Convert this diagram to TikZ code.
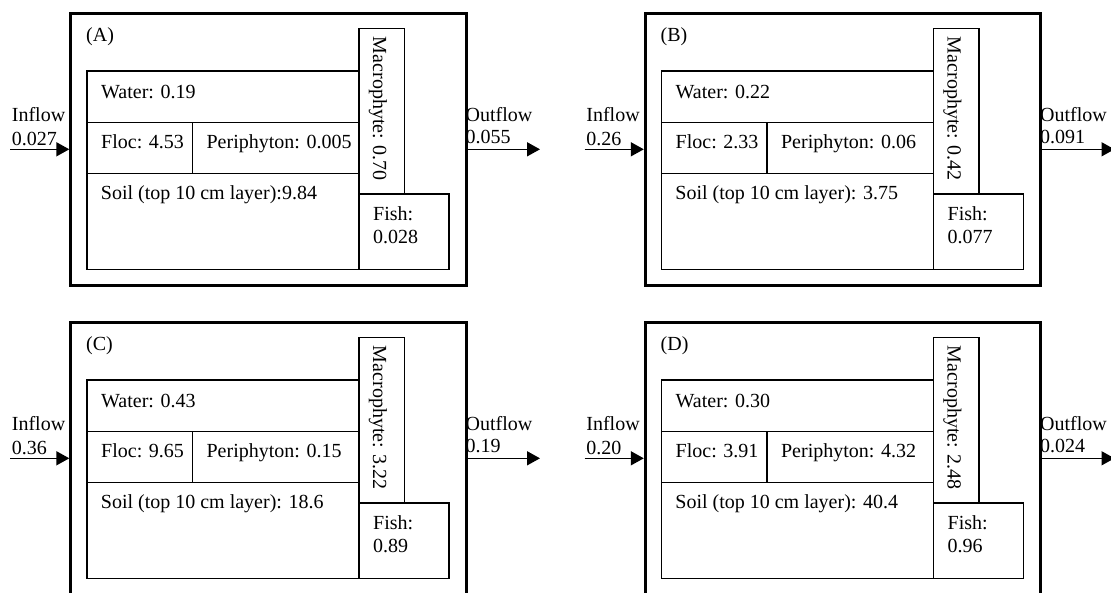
\documentclass[tikz,border=0pt]{standalone}
\usepackage{fontspec}
\setmainfont{Liberation Serif}
\usetikzlibrary{arrows.meta}
\tikzset{
  outerbox/.style={draw, line width=3pt, inner sep=0pt, minimum width=395.2pt, minimum height=272pt},
  cell/.style={draw, line width=1.6pt},
  txt/.style={anchor=base west, inner sep=0pt, font=\fontsize{20}{24}\selectfont},
  flow/.style={line width=1.5pt, -{Triangle[length=13pt,width=14pt]}}
}
\newcommand\panelbox[9]{%
  \node[txt] (inl#1) at (11.7,121.7) {Inflow};
  \node[txt] (inv#1) at (11.7,145) {#2};
  \node[txt] (outl#1) at (465.5,121.7) {Outflow};
  \node[txt] (outv#1) at (465.5,143.3) {#3};
  \node[outerbox] (box#1) at (268.4,149.3) {};
  \coordinate (src#1) at (10,149.3);
  \coordinate (dst#1) at (540,149.3);
  \draw[flow] (src#1) -- (box#1.west);
  \draw[flow] (box#1.east) -- (dst#1);
  \draw[cell] (87,71) rectangle (359,122.3);
  \draw[cell] (87,122.3) rectangle (192.5,173.3);
  \draw[cell] (192.5,122.3) rectangle (359,173.3);
  \draw[cell] (87,173.3) rectangle (359,269.3);
  \draw[cell] (359,28.3) rectangle (404.5,194);
  \draw[cell] (359,194) rectangle (449,269.3);
  \node[txt] (lab#1) at (86,41.7) {(#1)};
  \node[txt] (water#1) at (101,98.3) {Water: #4};
  \node[txt] (floc#1) at (101,148.3) {Floc: #5};
  \node[txt] (peri#1) at (206.4,148.3) {Periphyton: #6};
  \node[txt] (soil#1) at (100.7,199.3) {Soil (top 10 cm layer)#7};
  \node[txt] (fish#1) at (373,220) {Fish:};
  \node[txt] (fishv#1) at (373,243.3) {#9};
  \node[txt, rotate=-90] (mac#1) at (373,36.7) {Macrophyte: #8};
}
\begin{document}
\begin{tikzpicture}[x=1pt,y=-1pt]
  \useasboundingbox[fill=white] (0,0) rectangle (1111,592);
  \begin{scope}
    \panelbox{A}{0.027}{0.055}{0.19}{4.53}{0.005}{:9.84}{0.70}{0.028}
  \end{scope}
  \begin{scope}[shift={(574.5,0)}]
    \panelbox{B}{0.26}{0.091}{0.22}{2.33}{0.06}{: 3.75}{0.42}{0.077}
  \end{scope}
  \begin{scope}[shift={(0,309)}]
    \panelbox{C}{0.36}{0.19}{0.43}{9.65}{0.15}{: 18.6}{3.22}{0.89}
  \end{scope}
  \begin{scope}[shift={(574.5,309)}]
    \panelbox{D}{0.20}{0.024}{0.30}{3.91}{4.32}{: 40.4}{2.48}{0.96}
  \end{scope}
\end{tikzpicture}
\end{document}
